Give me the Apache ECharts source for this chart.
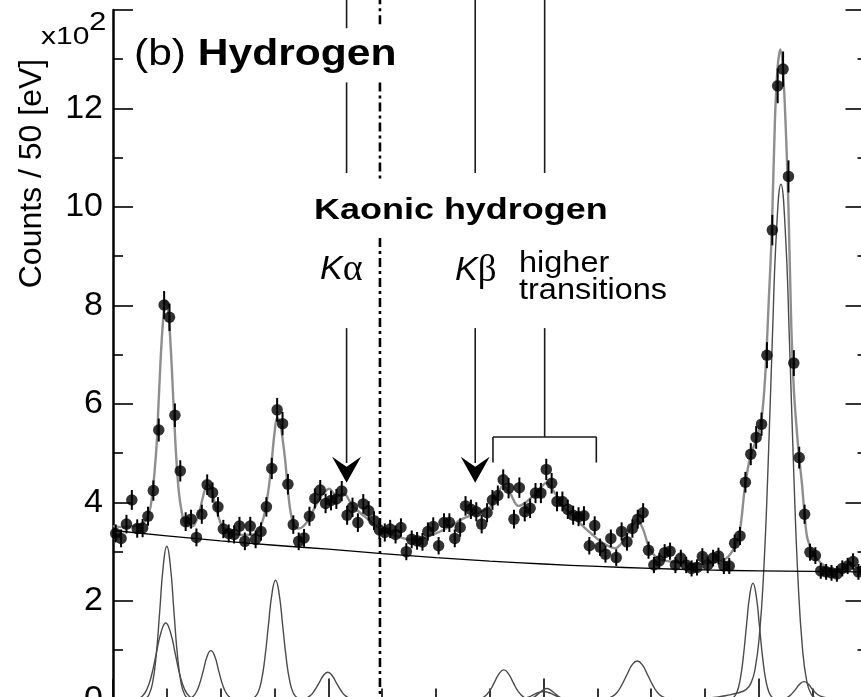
<!DOCTYPE html>
<html>
<head>
<meta charset="utf-8">
<script src="https://cdn.jsdelivr.net/npm/echarts@6/dist/echarts.min.js"></script>
<style>
html, body { margin: 0; padding: 0; background: #fff; }
#chart { width: 861px; height: 697px; }
</style>
</head>
<body>
<div id="chart"></div>
<script>
// ---- Spectrum data -------------------------------------------------------
// Counts per 50 eV bin (units of 10^2), bins start at 4000 eV
const binLow = 4000;
const binWidth = 50;
const counts = [
  3.37, 3.27, 3.56, 4.05, 3.47, 3.48, 3.72, 4.24, 5.47, 8.01,
  7.76, 5.77, 4.64, 3.61, 3.66, 3.29, 3.76, 4.36, 4.20, 3.91,
  3.46, 3.37, 3.35, 3.52, 3.21, 3.52, 3.25, 3.41, 3.91, 4.69,
  5.88, 5.60, 4.37, 3.55, 3.21, 3.28, 3.72, 4.08, 4.25, 3.98,
  4.04, 4.07, 4.23, 3.74, 3.90, 3.59, 3.97, 3.83, 3.63, 3.44,
  3.39, 3.46, 3.35, 3.49, 3.00, 3.25, 3.22, 3.20, 3.41, 3.51,
  3.12, 3.59, 3.59, 3.27, 3.49, 3.93, 3.86, 3.81, 3.56, 3.79,
  4.05, 4.14, 4.46, 4.29, 3.66, 4.30, 3.81, 3.88, 4.19, 4.19,
  4.67, 4.39, 4.02, 4.02, 3.86, 3.74, 3.71, 3.73, 3.12, 3.53,
  3.09, 2.95, 3.27, 2.88, 3.41, 3.20, 3.47, 3.66, 3.79, 3.03,
  2.73, 2.81, 2.98, 3.01, 2.73, 2.87, 2.73, 2.66, 2.68, 2.90,
  2.73, 2.87, 2.91, 2.71, 2.71, 3.17, 3.32, 4.41, 4.98, 5.32,
  5.59, 6.99, 9.53, 12.46, 12.80, 10.62, 6.83, 4.91, 3.76, 2.99,
  2.92, 2.61, 2.59, 2.57, 2.55, 2.66, 2.71, 2.80, 2.59, 2.62
];

// Total fit function [eV, counts]
const totalFit = [
  [4000,3.52],[4100,3.50],[4200,3.52],[4250,3.55],[4300,3.62],[4350,3.92],[4400,5.0],
  [4425,6.1],[4450,7.2],[4475,7.95],[4490,8.1],[4510,7.95],[4535,7.2],[4560,6.1],
  [4585,5.0],[4610,4.25],[4635,3.85],[4660,3.62],[4700,3.52],[4730,3.51],[4760,3.56],
  [4800,3.78],[4840,4.15],[4880,4.37],[4910,4.3],[4950,3.95],[5000,3.58],[5050,3.42],
  [5100,3.37],[5200,3.34],[5300,3.35],[5350,3.42],[5400,3.7],[5425,3.98],[5450,4.35],
  [5475,4.85],[5500,5.4],[5525,5.72],[5550,5.65],[5575,5.3],[5600,4.85],[5625,4.25],
  [5650,3.8],[5680,3.55],[5720,3.47],[5770,3.52],[5820,3.66],[5870,3.88],[5920,4.08],
  [5970,4.22],[6010,4.28],[6050,4.18],[6080,4.12],[6120,4.16],[6150,4.17],[6200,4.02],
  [6250,3.88],[6300,3.78],[6350,3.69],[6400,3.6],[6450,3.51],[6500,3.44],[6550,3.38],
  [6600,3.34],[6700,3.27],[6800,3.24],[6900,3.28],[6950,3.33],[7050,3.42],[7130,3.51],
  [7250,3.67],[7380,3.78],[7470,3.86],[7520,3.95],[7570,4.14],[7620,4.33],[7690,4.18],
  [7765,3.93],[7845,4.02],[7940,4.22],[8030,4.40],[8105,4.19],[8185,3.91],[8310,3.64],
  [8430,3.39],[8555,3.17],[8665,3.07],[8740,3.22],[8820,3.52],[8870,3.64],[8925,3.45],
  [8975,3.12],[9050,2.88],[9175,2.80],[9360,2.76],[9580,2.78],[9700,2.87],[9780,3.12],
  [9825,3.45],[9870,4.3],[9920,4.93],[9980,5.3],[10027,5.74],[10060,6.6],[10090,8.0],
  [10120,9.5],[10150,11.8],[10175,12.85],[10200,13.2],[10225,12.75],[10250,11.6],
  [10275,10.0],[10300,7.7],[10325,6.3],[10352,5.47],[10375,4.9],[10400,4.39],
  [10425,3.75],[10450,3.28],[10500,2.98],[10550,2.83],[10600,2.73],[10690,2.63],
  [10780,2.66],[10850,2.76],[10940,2.63],[11000,2.62]
];

// Continuum background [eV, counts]
const backgroundFit = [
  [4000,3.43],[4500,3.32],[5000,3.22],[5500,3.13],[6000,3.05],[6500,2.96],[7000,2.88],
  [7500,2.81],[8000,2.75],[8500,2.70],[9000,2.66],[9500,2.63],[10000,2.61],[10500,2.60],
  [11000,2.59]
];

// Individual line components [eV, counts]
const comp4500a = [
  [4269,0],[4302,0.02],[4335,0.10],[4368,0.34],[4401,0.89],[4434,1.79],[4467,2.71],
  [4500,3.11],[4533,2.71],[4566,1.79],[4599,0.89],[4632,0.34],[4665,0.10],[4698,0.02],[4731,0]
];
const comp4500b = [
  [4182,0],[4226,0.02],[4270,0.06],[4314,0.20],[4358,0.49],[4402,0.93],[4446,1.36],
  [4490,1.55],[4534,1.36],[4578,0.93],[4622,0.49],[4666,0.20],[4710,0.06],[4754,0.02],[4798,0]
];
const comp4910 = [
  [4658,0],[4694,0.01],[4730,0.035],[4766,0.12],[4802,0.30],[4838,0.58],[4874,0.87],
  [4910,0.99],[4946,0.87],[4982,0.58],[5018,0.30],[5054,0.12],[5090,0.035],[5126,0.01],[5162,0]
];
const comp5510 = [
  [5246,0],[5279,0.01],[5312,0.04],[5345,0.13],[5378,0.37],[5411,0.84],[5444,1.51],
  [5477,2.15],[5510,2.42],[5543,2.15],[5576,1.51],[5609,0.84],[5642,0.37],[5675,0.13],
  [5708,0.04],[5741,0.01],[5774,0]
];
const comp5995 = [
  [5701,0],[5743,0.005],[5785,0.02],[5827,0.066],[5869,0.17],[5911,0.32],[5953,0.48],
  [5995,0.55],[6037,0.48],[6079,0.32],[6121,0.17],[6163,0.066],[6205,0.02],[6247,0.005],[6289,0]
];
const comp7630 = [
  [7322,0],[7366,0.004],[7410,0.017],[7454,0.062],[7498,0.17],[7542,0.34],[7586,0.52],
  [7630,0.60],[7674,0.52],[7718,0.34],[7762,0.17],[7806,0.062],[7850,0.017],[7894,0.004],[7938,0]
];
const comp8030 = [
  [7820,0],[7855,0.008],[7890,0.026],[7925,0.067],[7960,0.13],[7995,0.19],[8030,0.22],
  [8065,0.19],[8100,0.13],[8135,0.067],[8170,0.026],[8205,0.008],[8240,0]
];
const comp8000 = [
  [7730,0],[7775,0.006],[7820,0.02],[7865,0.05],[7910,0.097],[7955,0.14],[8000,0.16],
  [8045,0.14],[8090,0.097],[8135,0.05],[8180,0.02],[8225,0.006],[8270,0]
];
const comp8870 = [
  [8486,0],[8534,0.003],[8582,0.015],[8630,0.049],[8678,0.13],[8726,0.29],[8774,0.50],
  [8822,0.70],[8870,0.78],[8918,0.70],[8966,0.50],[9014,0.29],[9062,0.13],[9110,0.049],
  [9158,0.015],[9206,0.003],[9254,0]
];
const comp9945 = [
  [9705,0],[9735,0.01],[9765,0.04],[9795,0.14],[9825,0.385],[9855,0.85],[9885,1.50],
  [9915,2.11],[9945,2.36],[9975,2.11],[10005,1.50],[10035,0.85],[10065,0.385],[10095,0.14],
  [10125,0.04],[10155,0.01],[10185,0]
];
const comp10205 = [
  [9400,0],[9500,0.02],[9600,0.045],[9700,0.08],[9800,0.13],[9880,0.2],[9925,0.32],
  [9965,0.62],[10005,1.3],[10045,2.6],[10085,4.7],[10125,7.3],[10165,9.56],[10205,10.46],
  [10245,9.54],[10285,7.23],[10325,4.55],[10365,2.38],[10405,1.04],[10445,0.37],
  [10485,0.11],[10525,0.03],[10565,0]
];
const comp10420 = [
  [10180,0],[10220,0.01],[10260,0.037],[10300,0.10],[10340,0.20],[10380,0.31],[10420,0.36],
  [10460,0.31],[10500,0.20],[10540,0.11],[10580,0.06],[10650,0.025],[10720,0]
];
const components = [comp4500a, comp4500b, comp4910, comp5510, comp5995, comp7630,
  comp8030, comp8000, comp8870, comp9945, comp10205, comp10420];

// ---- Transition markers (energies in eV) --------------------------------
const emKalpha = 6480;          // electromagnetic Kα value
const kAlphaEnergy = 6170;
const kBetaEnergy = 7365;
const higherRange = [7530, 8490];

// Vertical layout of the marker lines (in axis units)
const lv = {
  top: 14.3, titleGapTop: 13.63, titleGapBottom: 12.53,
  labelGapTop: 10.69, dashGapTop: 10.55, dashGapBottom: 9.37,
  labelGapBottom: 7.54, arrowTip: 4.40, bracket: 5.33, bracketLeg: 4.81
};

const FONT = '"Liberation Sans", Arial, Helvetica, sans-serif';
const GREEK = '"Liberation Serif", "DejaVu Serif", serif';

// ---- Derived series data -------------------------------------------------
const points = counts.map((v, i) => [binLow + binWidth / 2 + binWidth * i, v]);
// Poisson uncertainty of each bin: sqrt(N) with N = 100 * value
const errorBars = points.map(p => [p[0], p[1], Math.sqrt(p[1] * 100) / 100]);

const higherMid = (higherRange[0] + higherRange[1]) / 2;
const solidSegments = [
  [kAlphaEnergy, lv.top, kAlphaEnergy, lv.titleGapTop],
  [kAlphaEnergy, lv.titleGapBottom, kAlphaEnergy, lv.labelGapTop],
  [kAlphaEnergy, lv.labelGapBottom, kAlphaEnergy, lv.arrowTip + 0.4],
  [kBetaEnergy, lv.top, kBetaEnergy, lv.labelGapTop],
  [kBetaEnergy, lv.labelGapBottom, kBetaEnergy, lv.arrowTip + 0.4],
  [higherMid, lv.top, higherMid, lv.labelGapTop],
  [higherMid, lv.labelGapBottom, higherMid, lv.bracket],
  [higherRange[0], lv.bracket, higherRange[1], lv.bracket],
  [higherRange[0], lv.bracket, higherRange[0], lv.bracketLeg],
  [higherRange[1], lv.bracket, higherRange[1], lv.bracketLeg]
];
const dashSegments = [
  [emKalpha, lv.top, emKalpha, lv.titleGapTop],
  [emKalpha, lv.titleGapBottom, emKalpha, lv.dashGapTop],
  [emKalpha, lv.dashGapBottom, emKalpha, -0.2]
];
const arrowHeads = [[kAlphaEnergy, lv.arrowTip], [kBetaEnergy, lv.arrowTip]];

function segmentRenderer(style) {
  return function (params, api) {
    const a = api.coord([api.value(0), api.value(1)]);
    const b = api.coord([api.value(2), api.value(3)]);
    return { type: 'line', shape: { x1: a[0], y1: a[1], x2: b[0], y2: b[1] }, style: style };
  };
}

const chart = echarts.init(document.getElementById('chart'), null, { renderer: 'canvas' });

const series = [];
components.forEach(c => series.push({
  type: 'line', data: c, smooth: 0.5, showSymbol: false, symbol: 'none', z: 2,
  lineStyle: { color: '#4a4a4a', width: 1.4 }, silent: true
}));
series.push({
  type: 'line', data: backgroundFit, smooth: 0.5, symbol: 'none', z: 3,
  lineStyle: { color: '#000', width: 1.3 }, silent: true
});
series.push({
  type: 'line', data: totalFit, smooth: 0.35, symbol: 'none', z: 4,
  lineStyle: { color: '#8e8e8e', width: 2.4 }, silent: true
});
series.push({
  type: 'custom', data: errorBars, z: 5, silent: true,
  encode: { x: 0, y: 1 },
  renderItem: function (params, api) {
    const x = api.value(0), y = api.value(1), e = api.value(2);
    const a = api.coord([x, y - e]), b = api.coord([x, y + e]);
    return { type: 'line', shape: { x1: a[0], y1: a[1], x2: b[0], y2: b[1] },
      style: { stroke: '#000', lineWidth: 2 } };
  }
});
series.push({
  type: 'scatter', data: points, symbol: 'circle', symbolSize: 11.5, z: 6, silent: true,
  itemStyle: { color: '#000' }
});
series.push({
  type: 'custom', data: solidSegments, z: 7, clip: false, silent: true,
  encode: { x: [0, 2], y: [1, 3] },
  renderItem: segmentRenderer({ stroke: '#1a1a1a', lineWidth: 1.6 })
});
series.push({
  type: 'custom', data: dashSegments, z: 7, clip: false, silent: true,
  encode: { x: [0, 2], y: [1, 3] },
  renderItem: segmentRenderer({ stroke: '#000', lineWidth: 2.6, lineDash: [9, 4, 3, 4] })
});
series.push({
  type: 'custom', data: arrowHeads, z: 8, clip: false, silent: true,
  encode: { x: 0, y: 1 },
  renderItem: function (params, api) {
    const p = api.coord([api.value(0), api.value(1)]);
    return { type: 'polygon', shape: { points: [
      [p[0], p[1]], [p[0] - 14.5, p[1] - 26], [p[0], p[1] - 16], [p[0] + 14.5, p[1] - 26]
    ] }, style: { fill: '#000' } };
  }
});

function txt(x, y, text, font, opts) {
  opts = opts || {};
  return {
    type: 'text', x: x, y: y, scaleX: opts.scaleX || 1, rotation: opts.rotation || 0, z: 20,
    style: {
      text: text, font: font, fill: '#000',
      align: opts.align || 'left', textAlign: opts.align || 'left',
      verticalAlign: 'middle', textVerticalAlign: 'middle',
      rich: opts.rich
    }
  };
}

chart.setOption({
  animation: false,
  backgroundColor: '#fff',
  grid: { left: 113, top: 10, right: -5.5, bottom: -2.4, containLabel: false, outerBoundsMode: 'none' },
  xAxis: [{
    type: 'value', position: 'bottom', min: 4000, max: 11000, interval: 2000,
    axisLine: { show: true, lineStyle: { color: '#000', width: 2.5 } },
    axisTick: { show: true, inside: true, length: 21, lineStyle: { color: '#000', width: 1.6 } },
    minorTick: { show: true, splitNumber: 4, length: 11, lineStyle: { color: '#000', width: 1.6 } },
    axisLabel: { show: false }, splitLine: { show: false }
  }, {
    type: 'value', position: 'top', min: 4000, max: 11000, interval: 2000,
    axisLine: { show: true, lineStyle: { color: '#000', width: 2.5 } },
    axisTick: { show: false }, axisLabel: { show: false }, splitLine: { show: false }
  }],
  yAxis: [{
    type: 'value', position: 'left', min: 0, max: 14, interval: 2,
    axisLine: { show: true, lineStyle: { color: '#000', width: 2.5 } },
    axisTick: { show: true, inside: true, length: 20, lineStyle: { color: '#000', width: 1.6 } },
    minorTick: { show: true, splitNumber: 2, length: 10, lineStyle: { color: '#000', width: 1.6 } },
    axisLabel: { show: true, color: '#000', fontSize: 34, fontFamily: FONT, margin: 10, showMaxLabel: false },
    splitLine: { show: false }
  }, {
    type: 'value', position: 'right', min: 0, max: 14, interval: 2,
    axisLine: { show: true, lineStyle: { color: '#000', width: 2.5 } },
    axisTick: { show: true, inside: true, length: 21, lineStyle: { color: '#000', width: 1.6 } },
    minorTick: { show: true, splitNumber: 2, length: 9, lineStyle: { color: '#000', width: 1.6 } },
    axisLabel: { show: false }, splitLine: { show: false }
  }],
  series: series,
  graphic: [
    txt(32, 173.5, 'Counts / 50 [eV]', '32px ' + FONT, { align: 'center', rotation: Math.PI / 2 }),
    txt(41, 37, 'x10', '24px ' + FONT, { scaleX: 1.25 }),
    txt(89, 23, '2', '25px ' + FONT, { scaleX: 1.25 }),
    txt(134, 55, '{a|(b) }{b|Hydrogen}', '37px ' + FONT, {
      scaleX: 1.15,
      rich: { a: { font: '37px ' + FONT, fill: '#000' }, b: { font: 'bold 37px ' + FONT, fill: '#000' } }
    }),
    txt(314, 211, 'Kaonic hydrogen', 'bold 29px ' + FONT, { scaleX: 1.24 }),
    txt(320, 270, '{k|K}{g|α}', '34px ' + FONT, {
      rich: { k: { font: 'italic 34px ' + FONT, fill: '#000' }, g: { font: '38px ' + GREEK, fill: '#000' } }
    }),
    txt(455, 271, '{k|K}{g|β}', '34px ' + FONT, {
      rich: { k: { font: 'italic 34px ' + FONT, fill: '#000' }, g: { font: '37px ' + GREEK, fill: '#000' } }
    }),
    txt(519, 264, 'higher', '29px ' + FONT, { scaleX: 1.12 }),
    txt(519, 291, 'transitions', '29px ' + FONT, { scaleX: 1.12 })
  ]
});
</script>
</body>
</html>
